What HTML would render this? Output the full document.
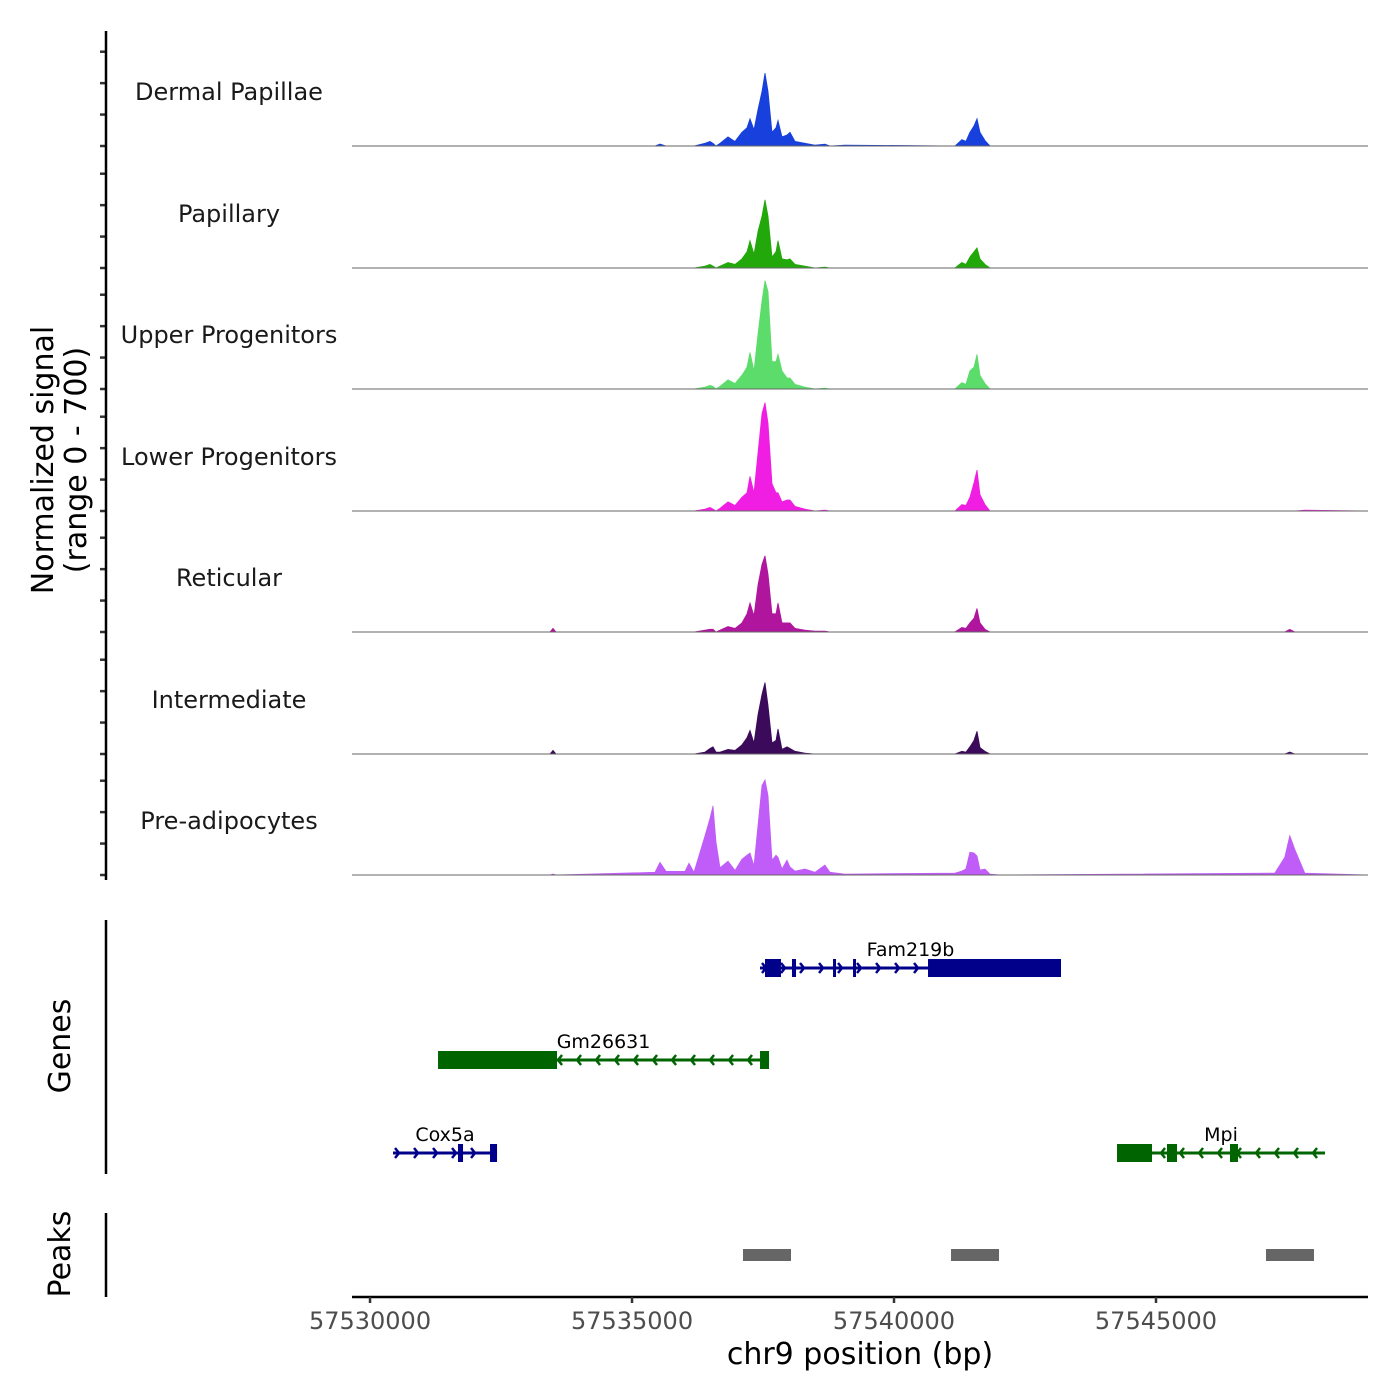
<!DOCTYPE html>
<html><head><meta charset="utf-8"><style>
html,body{margin:0;padding:0;background:#fff;}
svg{display:block;font-family:"DejaVu Sans","Liberation Sans",sans-serif;}
</style></head><body>
<svg id="chart" width="1400" height="1400" viewBox="0 0 1400 1400"></svg>
<script>
// ---- data ----
const positions = [57529657,57533435,57533492,57533549,57535438,57535534,57535648,57536011,57536088,57536183,57536392,57536488,57536546,57536603,57536679,57536832,57536965,57537098,57537194,57537252,57537328,57537405,57537481,57537538,57537595,57537672,57537748,57537786,57537862,57537958,57538015,57538110,57538300,57538491,57538682,57538778,57539064,57541162,57541296,57541372,57541449,57541526,57541584,57541641,57541736,57541832,57542022,57547267,57547458,57547553,57547649,57547840,57549042];
const trackNames = ["Dermal Papillae","Papillary","Upper Progenitors","Lower Progenitors","Reticular","Intermediate","Pre-adipocytes"];
const trackColors = ["#1740dc","#22a80a","#5cdc6a","#f01ee2","#b0159e","#3c0a5a","#c05cf8"];
const dermalPapillae = [0,0,0,0,0,12,0,0,0,0,17,29,17,0,17,58,29,87,116,174,104,232,348,464,348,87,116,162,58,70,87,29,17,6,12,0,6,0,41,29,87,128,174,87,35,0,0,0,0,0,0,0,0];
const papillary = [0,0,0,0,0,0,0,0,0,0,12,23,12,0,12,35,23,58,104,174,87,232,330,434,330,70,104,174,58,52,58,23,12,0,6,0,0,0,35,23,70,104,128,58,23,0,0,0,0,0,0,0,0];
const upperProgenitors = [0,0,0,0,0,0,0,0,0,0,12,23,17,0,17,58,35,87,139,232,116,348,560,690,620,174,174,220,116,70,70,29,12,0,6,0,0,0,41,29,116,139,220,87,35,0,0,0,0,0,0,0,0];
const lowerProgenitors = [0,0,0,0,0,0,0,0,0,0,12,23,12,0,17,58,35,87,116,220,116,370,620,690,560,174,116,116,58,70,70,29,12,0,6,0,0,0,41,35,87,180,260,104,41,0,0,0,0,0,0,6,0];
const reticular = [0,0,23,0,0,0,0,0,0,0,12,17,17,0,12,35,23,58,116,185,104,300,430,485,370,116,116,185,58,58,58,23,12,6,6,0,0,0,29,23,58,87,150,58,17,0,0,0,0,17,0,0,0];
const intermediate = [0,0,23,0,0,0,0,0,0,0,12,35,46,12,12,29,23,58,104,150,70,250,380,455,310,70,87,160,29,46,35,17,6,0,0,0,0,0,17,12,46,87,145,41,17,0,0,0,0,12,0,0,0];
const preAdipocytes = [0,0,6,0,17,80,23,23,75,17,250,360,440,210,46,88,29,100,126,140,58,315,570,605,505,95,126,113,38,95,50,25,38,17,63,17,6,12,25,38,145,140,120,32,38,6,0,12,113,250,163,12,0];
const trackValues = [dermalPapillae,papillary,upperProgenitors,lowerProgenitors,reticular,intermediate,preAdipocytes];
const yTicks = [0,200,400,600];
const xTicks = [57530000,57535000,57540000,57545000];
const geneNames = ["Fam219b","Gm26631","Cox5a","Mpi"];
const geneStrand = [1,-1,1,-1];
const geneStart = [57537443,57531298,57530439,57544256];
const geneEnd = [57543187,57537615,57532424,57548225];
const geneRow = [0,1,2,2];
const geneExons = [
  [[57537538,57537843],[57538053,57538130],[57538836,57538893],[57539218,57539275],[57540649,57543187]],
  [[57531298,57533569],[57537443,57537615]],
  [[57531679,57531775],[57532290,57532424]],
  [[57544256,57544924],[57545210,57545401],[57546412,57546565]]
];
const geneColors = ["#00008b","#006400","#00008b","#006400"];
const peakStart = [57537118,57541088,57547099];
const peakEnd = [57538034,57542004,57548015];

// ---- scales ----
const X0 = 352, X1 = 1368, BP0 = 57529656, BP1 = 57549046;
function xs(bp){ return X0 + (bp - BP0) / (BP1 - BP0) * (X1 - X0); }
const baselines = [146,268,389,511,632,754,875];
const TRACK_H = 110, RANGE_MAX = 700;
function ys(i, v){ return baselines[i] - Math.min(v, RANGE_MAX) / RANGE_MAX * TRACK_H; }
const geneRowY = [968,1060,1153];

const NS = "http://www.w3.org/2000/svg";
const svg = document.getElementById('chart');
function mk(tag, attrs, parent){ const e = document.createElementNS(NS, tag); for (const k in attrs) e.setAttribute(k, attrs[k]); (parent||svg).appendChild(e); return e; }

// ---- coverage tracks ----
for (let i = 0; i < trackValues.length; i++) {
  const g = mk('g', {});
  
  
  let d = 'M' + xs(positions[0]) + ',' + baselines[i];
  for (let j = 0; j < positions.length; j++) d += ' L' + xs(positions[j]).toFixed(1) + ',' + ys(i, trackValues[i][j]).toFixed(1);
  d += ' L' + xs(positions[positions.length-1]) + ',' + baselines[i] + ' Z';
  const p = mk('path', {d: d, fill: trackColors[i], stroke: trackColors[i], 'stroke-width': 0.8}, g);
  
  
  const bl = mk('line', {x1: X0, x2: X1, y1: baselines[i], y2: baselines[i], stroke: '#666', 'stroke-width': 1}, g);
  
  
  const t = mk('text', {x: 229, y: baselines[i] - 46, 'text-anchor': 'middle', 'font-size': 24, fill: '#1a1a1a'}, g);
  t.textContent = trackNames[i];
  
  
  for (const tv of yTicks) {
    const tk = mk('line', {x1: 100, x2: 106, y1: ys(i, tv), y2: ys(i, tv), stroke: '#333', 'stroke-width': 2.5}, g);
    
    
  }
}
// signal y axis
const ya = mk('line', {x1: 106, x2: 106, y1: 31, y2: 880, stroke: '#000', 'stroke-width': 2.5});


const yt1 = mk('text', {x: 0, y: 0, transform: 'translate(53,460) rotate(-90)', 'text-anchor': 'middle', 'font-size': 30, fill: '#000'});
yt1.textContent = 'Normalized signal';


const yt2 = mk('text', {x: 0, y: 0, transform: 'translate(86,460) rotate(-90)', 'text-anchor': 'middle', 'font-size': 30, fill: '#000'});
yt2.textContent = '(range 0 - 700)';



// ---- genes ----
const ga = mk('line', {x1: 106, x2: 106, y1: 920, y2: 1174, stroke: '#000', 'stroke-width': 2.5});


const gt = mk('text', {x: 0, y: 0, transform: 'translate(70,1046) rotate(-90)', 'text-anchor': 'middle', 'font-size': 30, fill: '#000'});
gt.textContent = 'Genes';


for (let i = 0; i < geneNames.length; i++) {
  const g = mk('g', {});
  
  
  const y = geneRowY[geneRow[i]], c = geneColors[i];
  const a = xs(geneStart[i]), b = xs(geneEnd[i]);
  mk('line', {x1: a, x2: b, y1: y, y2: y, stroke: c, 'stroke-width': 3}, g);
  for (let x = a + 6; x < b - 4; x += 19) {
    const s = geneStrand[i];
    mk('polyline', {points: (x - 4*s) + ',' + (y-5) + ' ' + x + ',' + y + ' ' + (x - 4*s) + ',' + (y+5), fill: 'none', stroke: c, 'stroke-width': 2.5}, g);
  }
  for (const ex of geneExons[i]) {
    const r = mk('rect', {x: xs(ex[0]), y: y - 9, width: Math.max(3, xs(ex[1]) - xs(ex[0])), height: 18, fill: c}, g);
    
    
  }
  const t = mk('text', {x: (a + b) / 2, y: y - 12, 'text-anchor': 'middle', 'font-size': 19, fill: '#000'}, g);
  t.textContent = geneNames[i];
  
  
}

// ---- peaks ----
const pa = mk('line', {x1: 106, x2: 106, y1: 1213, y2: 1297, stroke: '#000', 'stroke-width': 2.5});


const pt = mk('text', {x: 0, y: 0, transform: 'translate(70,1254) rotate(-90)', 'text-anchor': 'middle', 'font-size': 30, fill: '#000'});
pt.textContent = 'Peaks';


for (let i = 0; i < peakStart.length; i++) {
  const r = mk('rect', {x: xs(peakStart[i]), y: 1249, width: xs(peakEnd[i]) - xs(peakStart[i]), height: 12, fill: '#666'});
  
  
}

// ---- x axis ----
const xa = mk('line', {x1: X0, x2: X1, y1: 1297, y2: 1297, stroke: '#000', 'stroke-width': 2.5});


for (const tv of xTicks) {
  const tk = mk('line', {x1: xs(tv), x2: xs(tv), y1: 1297, y2: 1303, stroke: '#333', 'stroke-width': 2.5});
  
  
  const t = mk('text', {x: xs(tv), y: 1329, 'text-anchor': 'middle', 'font-size': 24, fill: '#4d4d4d'});
  t.textContent = String(tv);
  
  
}
const xt = mk('text', {x: 860, y: 1364, 'text-anchor': 'middle', 'font-size': 30, fill: '#000'});
xt.textContent = 'chr9 position (bp)';


</script>
</body></html>
